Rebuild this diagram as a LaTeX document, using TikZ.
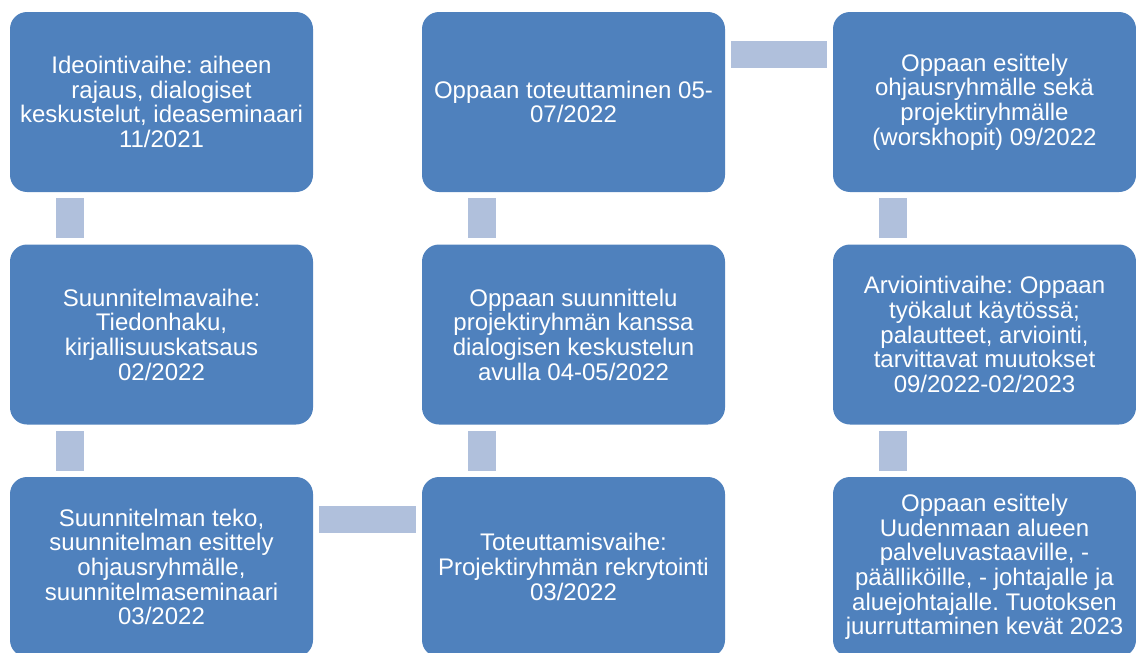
\documentclass[tikz,border=0pt]{standalone}
\usepackage{fontspec}
\setmainfont{Liberation Sans}
\usetikzlibrary{calc}
\frenchspacing
\definecolor{boxblue}{HTML}{4F81BD}
\definecolor{connblue}{HTML}{B0C0DC}
\tikzset{
  stepbox/.style={rectangle, rounded corners=17pt, fill=boxblue, draw=none,
    minimum width=303pt, minimum height=180pt, inner sep=0pt, text=white,
    align=center, font=\fontsize{24}{24.7}\selectfont\frenchspacing},
  conn/.style={fill=connblue, draw=none}
}
\begin{document}
\begin{tikzpicture}[x=1pt,y=-1pt]
\useasboundingbox (0,0) rectangle (1136,653);
\clip (0,0) rectangle (1136,653);
\node[stepbox] (a1) at (161.5,102) {Ideointivaihe: aiheen\\rajaus, dialogiset\\keskustelut, ideaseminaari\\11/2021};
\node[stepbox] (a2) at (161.5,334.5) {Suunnitelmavaihe:\\Tiedonhaku,\\kirjallisuuskatsaus\\02/2022};
\node[stepbox] (a3) at (161.5,567) {Suunnitelman teko,\\suunnitelman esittely\\ohjausryhmälle,\\suunnitelmaseminaari\\03/2022};
\node[stepbox] (b3) at (573.5,567) {Toteuttamisvaihe:\\Projektiryhmän rekrytointi\\03/2022};
\node[stepbox] (b2) at (573.5,334.5) {Oppaan suunnittelu\\projektiryhmän kanssa\\dialogisen keskustelun\\avulla 04-05/2022};
\node[stepbox] (b1) at (573.5,102) {Oppaan toteuttaminen 05-\\07/2022};
\node[stepbox] (c1) at (984.5,102) {Oppaan esittely\\ohjausryhmälle sekä\\projektiryhmälle\\(worskhopit) 09/2022};
\node[stepbox] (c2) at (984.5,334.5) {Arviointivaihe: Oppaan\\työkalut käytössä;\\palautteet, arviointi,\\tarvittavat muutokset\\09/2022-02/2023};
\node[stepbox] (c3) at (984.5,567) {Oppaan esittely\\Uudenmaan alueen\\palveluvastaaville, -\\päälliköille, - johtajalle ja\\aluejohtajalle. Tuotoksen\\juurruttaminen kevät 2023};
% vertical connectors
\fill[conn] ($(a1.south west)+(46,6)$) rectangle ($(a2.north west)+(74,-6)$);
\fill[conn] ($(a2.south west)+(46,6)$) rectangle ($(a3.north west)+(74,-6)$);
\fill[conn] ($(b3.north west)+(46,-6)$) rectangle ($(b2.south west)+(74,6)$);
\fill[conn] ($(b2.north west)+(46,-6)$) rectangle ($(b1.south west)+(74,6)$);
\fill[conn] ($(c1.south west)+(46,6)$) rectangle ($(c2.north west)+(74,-6)$);
\fill[conn] ($(c2.south west)+(46,6)$) rectangle ($(c3.north west)+(74,-6)$);
% horizontal connectors
\fill[conn] ($(a3.north east)+(6,29)$) rectangle ($(b3.north west)+(-6,56)$);
\fill[conn] ($(b1.north east)+(6,29)$) rectangle ($(c1.north west)+(-6,56)$);
\end{tikzpicture}
\end{document}
